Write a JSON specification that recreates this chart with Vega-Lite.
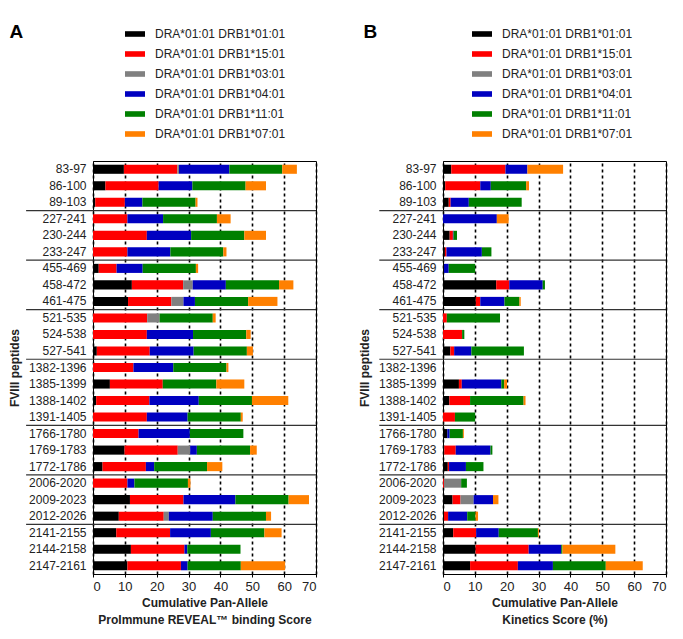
{
  "$schema": "https://vega.github.io/schema/vega-lite/v6.json",
  "padding": {"left": 8, "top": 22, "right": 5, "bottom": 5},
  "config": {
    "font": "Liberation Sans",
    "view": {"stroke": "black", "strokeWidth": 1},
    "axis": {"domainColor": "black", "domainWidth": 1, "labelColor": "#222", "titleColor": "#222"},
    "concat": {"spacing": 40}
  },
  "datasets": {
    "alleles": [
      {"allele": "DRA*01:01 DRB1*01:01", "rank": 1},
      {"allele": "DRA*01:01 DRB1*15:01", "rank": 2},
      {"allele": "DRA*01:01 DRB1*03:01", "rank": 3},
      {"allele": "DRA*01:01 DRB1*04:01", "rank": 4},
      {"allele": "DRA*01:01 DRB1*11:01", "rank": 5},
      {"allele": "DRA*01:01 DRB1*07:01", "rank": 6}
    ],
    "A": [
      {"peptide": "83-97", "DRA*01:01 DRB1*01:01": 9.7, "DRA*01:01 DRB1*15:01": 16.8, "DRA*01:01 DRB1*03:01": 0.5, "DRA*01:01 DRB1*04:01": 15.8, "DRA*01:01 DRB1*11:01": 16.6, "DRA*01:01 DRB1*07:01": 4.6},
      {"peptide": "86-100", "DRA*01:01 DRB1*01:01": 3.9, "DRA*01:01 DRB1*15:01": 16.7, "DRA*01:01 DRB1*03:01": 0, "DRA*01:01 DRB1*04:01": 10.6, "DRA*01:01 DRB1*11:01": 16.7, "DRA*01:01 DRB1*07:01": 6.4},
      {"peptide": "89-103", "DRA*01:01 DRB1*01:01": 0.7, "DRA*01:01 DRB1*15:01": 9.3, "DRA*01:01 DRB1*03:01": 0, "DRA*01:01 DRB1*04:01": 5.5, "DRA*01:01 DRB1*11:01": 16.7, "DRA*01:01 DRB1*07:01": 0.6},
      {"peptide": "227-241", "DRA*01:01 DRB1*01:01": 0, "DRA*01:01 DRB1*15:01": 10.8, "DRA*01:01 DRB1*03:01": 0, "DRA*01:01 DRB1*04:01": 11.2, "DRA*01:01 DRB1*11:01": 16.9, "DRA*01:01 DRB1*07:01": 4.3},
      {"peptide": "230-244", "DRA*01:01 DRB1*01:01": 0, "DRA*01:01 DRB1*15:01": 16.9, "DRA*01:01 DRB1*03:01": 0, "DRA*01:01 DRB1*04:01": 13.9, "DRA*01:01 DRB1*11:01": 16.7, "DRA*01:01 DRB1*07:01": 6.8},
      {"peptide": "233-247", "DRA*01:01 DRB1*01:01": 0, "DRA*01:01 DRB1*15:01": 10.8, "DRA*01:01 DRB1*03:01": 0, "DRA*01:01 DRB1*04:01": 13.5, "DRA*01:01 DRB1*11:01": 16.6, "DRA*01:01 DRB1*07:01": 1.0},
      {"peptide": "455-469", "DRA*01:01 DRB1*01:01": 1.8, "DRA*01:01 DRB1*15:01": 5.6, "DRA*01:01 DRB1*03:01": 0, "DRA*01:01 DRB1*04:01": 8.2, "DRA*01:01 DRB1*11:01": 16.7, "DRA*01:01 DRB1*07:01": 0.7},
      {"peptide": "458-472", "DRA*01:01 DRB1*01:01": 12.2, "DRA*01:01 DRB1*15:01": 16.1, "DRA*01:01 DRB1*03:01": 3.0, "DRA*01:01 DRB1*04:01": 10.4, "DRA*01:01 DRB1*11:01": 16.7, "DRA*01:01 DRB1*07:01": 4.5},
      {"peptide": "461-475", "DRA*01:01 DRB1*01:01": 11.0, "DRA*01:01 DRB1*15:01": 13.6, "DRA*01:01 DRB1*03:01": 3.8, "DRA*01:01 DRB1*04:01": 3.6, "DRA*01:01 DRB1*11:01": 16.7, "DRA*01:01 DRB1*07:01": 9.2},
      {"peptide": "521-535", "DRA*01:01 DRB1*01:01": 0, "DRA*01:01 DRB1*15:01": 17.0, "DRA*01:01 DRB1*03:01": 3.9, "DRA*01:01 DRB1*04:01": 0, "DRA*01:01 DRB1*11:01": 16.7, "DRA*01:01 DRB1*07:01": 0.9},
      {"peptide": "524-538", "DRA*01:01 DRB1*01:01": 0, "DRA*01:01 DRB1*15:01": 16.9, "DRA*01:01 DRB1*03:01": 0, "DRA*01:01 DRB1*04:01": 14.5, "DRA*01:01 DRB1*11:01": 16.7, "DRA*01:01 DRB1*07:01": 1.4},
      {"peptide": "527-541", "DRA*01:01 DRB1*01:01": 1.2, "DRA*01:01 DRB1*15:01": 16.6, "DRA*01:01 DRB1*03:01": 0, "DRA*01:01 DRB1*04:01": 13.8, "DRA*01:01 DRB1*11:01": 16.7, "DRA*01:01 DRB1*07:01": 1.9},
      {"peptide": "1382-1396", "DRA*01:01 DRB1*01:01": 0, "DRA*01:01 DRB1*15:01": 12.7, "DRA*01:01 DRB1*03:01": 0, "DRA*01:01 DRB1*04:01": 12.5, "DRA*01:01 DRB1*11:01": 16.7, "DRA*01:01 DRB1*07:01": 0.6},
      {"peptide": "1385-1399", "DRA*01:01 DRB1*01:01": 5.3, "DRA*01:01 DRB1*15:01": 16.6, "DRA*01:01 DRB1*03:01": 0, "DRA*01:01 DRB1*04:01": 0, "DRA*01:01 DRB1*11:01": 16.8, "DRA*01:01 DRB1*07:01": 8.8},
      {"peptide": "1388-1402", "DRA*01:01 DRB1*01:01": 1.0, "DRA*01:01 DRB1*15:01": 16.7, "DRA*01:01 DRB1*03:01": 0, "DRA*01:01 DRB1*04:01": 15.5, "DRA*01:01 DRB1*11:01": 16.7, "DRA*01:01 DRB1*07:01": 11.4},
      {"peptide": "1391-1405", "DRA*01:01 DRB1*01:01": 0, "DRA*01:01 DRB1*15:01": 16.9, "DRA*01:01 DRB1*03:01": 0, "DRA*01:01 DRB1*04:01": 12.8, "DRA*01:01 DRB1*11:01": 16.7, "DRA*01:01 DRB1*07:01": 0.6},
      {"peptide": "1766-1780", "DRA*01:01 DRB1*01:01": 0, "DRA*01:01 DRB1*15:01": 14.3, "DRA*01:01 DRB1*03:01": 0, "DRA*01:01 DRB1*04:01": 16.1, "DRA*01:01 DRB1*11:01": 16.8, "DRA*01:01 DRB1*07:01": 0},
      {"peptide": "1769-1783", "DRA*01:01 DRB1*01:01": 9.9, "DRA*01:01 DRB1*15:01": 16.7, "DRA*01:01 DRB1*03:01": 3.9, "DRA*01:01 DRB1*04:01": 2.1, "DRA*01:01 DRB1*11:01": 16.7, "DRA*01:01 DRB1*07:01": 2.1},
      {"peptide": "1772-1786", "DRA*01:01 DRB1*01:01": 3.0, "DRA*01:01 DRB1*15:01": 13.6, "DRA*01:01 DRB1*03:01": 0, "DRA*01:01 DRB1*04:01": 2.6, "DRA*01:01 DRB1*11:01": 16.6, "DRA*01:01 DRB1*07:01": 4.8},
      {"peptide": "2006-2020", "DRA*01:01 DRB1*01:01": 0, "DRA*01:01 DRB1*15:01": 10.8, "DRA*01:01 DRB1*03:01": 0, "DRA*01:01 DRB1*04:01": 2.2, "DRA*01:01 DRB1*11:01": 16.8, "DRA*01:01 DRB1*07:01": 0.8},
      {"peptide": "2009-2023", "DRA*01:01 DRB1*01:01": 11.6, "DRA*01:01 DRB1*15:01": 16.8, "DRA*01:01 DRB1*03:01": 0, "DRA*01:01 DRB1*04:01": 16.3, "DRA*01:01 DRB1*11:01": 16.7, "DRA*01:01 DRB1*07:01": 6.4},
      {"peptide": "2012-2026", "DRA*01:01 DRB1*01:01": 8.1, "DRA*01:01 DRB1*15:01": 14.1, "DRA*01:01 DRB1*03:01": 1.6, "DRA*01:01 DRB1*04:01": 13.8, "DRA*01:01 DRB1*11:01": 16.7, "DRA*01:01 DRB1*07:01": 1.6},
      {"peptide": "2141-2155", "DRA*01:01 DRB1*01:01": 7.3, "DRA*01:01 DRB1*15:01": 16.9, "DRA*01:01 DRB1*03:01": 0, "DRA*01:01 DRB1*04:01": 12.8, "DRA*01:01 DRB1*11:01": 16.8, "DRA*01:01 DRB1*07:01": 5.4},
      {"peptide": "2144-2158", "DRA*01:01 DRB1*01:01": 11.9, "DRA*01:01 DRB1*15:01": 16.8, "DRA*01:01 DRB1*03:01": 0, "DRA*01:01 DRB1*04:01": 0.9, "DRA*01:01 DRB1*11:01": 16.7, "DRA*01:01 DRB1*07:01": 0},
      {"peptide": "2147-2161", "DRA*01:01 DRB1*01:01": 10.8, "DRA*01:01 DRB1*15:01": 16.8, "DRA*01:01 DRB1*03:01": 0, "DRA*01:01 DRB1*04:01": 2.1, "DRA*01:01 DRB1*11:01": 16.7, "DRA*01:01 DRB1*07:01": 13.9}
    ],
    "B": [
      {"peptide": "83-97", "DRA*01:01 DRB1*01:01": 2.6, "DRA*01:01 DRB1*15:01": 17.0, "DRA*01:01 DRB1*03:01": 0, "DRA*01:01 DRB1*04:01": 6.9, "DRA*01:01 DRB1*11:01": 0, "DRA*01:01 DRB1*07:01": 11.2},
      {"peptide": "86-100", "DRA*01:01 DRB1*01:01": 0.7, "DRA*01:01 DRB1*15:01": 11.0, "DRA*01:01 DRB1*03:01": 0, "DRA*01:01 DRB1*04:01": 3.3, "DRA*01:01 DRB1*11:01": 11.1, "DRA*01:01 DRB1*07:01": 0.9},
      {"peptide": "89-103", "DRA*01:01 DRB1*01:01": 1.8, "DRA*01:01 DRB1*15:01": 0.6, "DRA*01:01 DRB1*03:01": 0, "DRA*01:01 DRB1*04:01": 5.7, "DRA*01:01 DRB1*11:01": 16.6, "DRA*01:01 DRB1*07:01": 0},
      {"peptide": "227-241", "DRA*01:01 DRB1*01:01": 0, "DRA*01:01 DRB1*15:01": 0, "DRA*01:01 DRB1*03:01": 0, "DRA*01:01 DRB1*04:01": 16.9, "DRA*01:01 DRB1*11:01": 0, "DRA*01:01 DRB1*07:01": 3.7},
      {"peptide": "230-244", "DRA*01:01 DRB1*01:01": 2.1, "DRA*01:01 DRB1*15:01": 1.0, "DRA*01:01 DRB1*03:01": 0, "DRA*01:01 DRB1*04:01": 0.2, "DRA*01:01 DRB1*11:01": 1.1, "DRA*01:01 DRB1*07:01": 0},
      {"peptide": "233-247", "DRA*01:01 DRB1*01:01": 0.6, "DRA*01:01 DRB1*15:01": 0.5, "DRA*01:01 DRB1*03:01": 0, "DRA*01:01 DRB1*04:01": 11.1, "DRA*01:01 DRB1*11:01": 3.0, "DRA*01:01 DRB1*07:01": 0},
      {"peptide": "455-469", "DRA*01:01 DRB1*01:01": 0.3, "DRA*01:01 DRB1*15:01": 0, "DRA*01:01 DRB1*03:01": 0, "DRA*01:01 DRB1*04:01": 1.5, "DRA*01:01 DRB1*11:01": 8.3, "DRA*01:01 DRB1*07:01": 0},
      {"peptide": "458-472", "DRA*01:01 DRB1*01:01": 16.7, "DRA*01:01 DRB1*15:01": 4.1, "DRA*01:01 DRB1*03:01": 0, "DRA*01:01 DRB1*04:01": 10.5, "DRA*01:01 DRB1*11:01": 0.7, "DRA*01:01 DRB1*07:01": 0},
      {"peptide": "461-475", "DRA*01:01 DRB1*01:01": 10.3, "DRA*01:01 DRB1*15:01": 1.4, "DRA*01:01 DRB1*03:01": 0, "DRA*01:01 DRB1*04:01": 7.6, "DRA*01:01 DRB1*11:01": 4.7, "DRA*01:01 DRB1*07:01": 0.4},
      {"peptide": "521-535", "DRA*01:01 DRB1*01:01": 0, "DRA*01:01 DRB1*15:01": 1.2, "DRA*01:01 DRB1*03:01": 0, "DRA*01:01 DRB1*04:01": 0, "DRA*01:01 DRB1*11:01": 16.7, "DRA*01:01 DRB1*07:01": 0},
      {"peptide": "524-538", "DRA*01:01 DRB1*01:01": 0, "DRA*01:01 DRB1*15:01": 6.0, "DRA*01:01 DRB1*03:01": 0, "DRA*01:01 DRB1*04:01": 0, "DRA*01:01 DRB1*11:01": 0.7, "DRA*01:01 DRB1*07:01": 0},
      {"peptide": "527-541", "DRA*01:01 DRB1*01:01": 2.3, "DRA*01:01 DRB1*15:01": 1.2, "DRA*01:01 DRB1*03:01": 0, "DRA*01:01 DRB1*04:01": 5.4, "DRA*01:01 DRB1*11:01": 16.5, "DRA*01:01 DRB1*07:01": 0},
      {"peptide": "1382-1396", "DRA*01:01 DRB1*01:01": 0, "DRA*01:01 DRB1*15:01": 0, "DRA*01:01 DRB1*03:01": 0, "DRA*01:01 DRB1*04:01": 0, "DRA*01:01 DRB1*11:01": 0, "DRA*01:01 DRB1*07:01": 0},
      {"peptide": "1385-1399", "DRA*01:01 DRB1*01:01": 5.0, "DRA*01:01 DRB1*15:01": 0.9, "DRA*01:01 DRB1*03:01": 0, "DRA*01:01 DRB1*04:01": 12.4, "DRA*01:01 DRB1*11:01": 0.9, "DRA*01:01 DRB1*07:01": 0.9},
      {"peptide": "1388-1402", "DRA*01:01 DRB1*01:01": 2.0, "DRA*01:01 DRB1*15:01": 6.5, "DRA*01:01 DRB1*03:01": 0, "DRA*01:01 DRB1*04:01": 0, "DRA*01:01 DRB1*11:01": 16.8, "DRA*01:01 DRB1*07:01": 0.6},
      {"peptide": "1391-1405", "DRA*01:01 DRB1*01:01": 0, "DRA*01:01 DRB1*15:01": 3.75, "DRA*01:01 DRB1*03:01": 0, "DRA*01:01 DRB1*04:01": 0, "DRA*01:01 DRB1*11:01": 6.35, "DRA*01:01 DRB1*07:01": 0},
      {"peptide": "1766-1780", "DRA*01:01 DRB1*01:01": 1.35, "DRA*01:01 DRB1*15:01": 0, "DRA*01:01 DRB1*03:01": 0, "DRA*01:01 DRB1*04:01": 0.75, "DRA*01:01 DRB1*11:01": 4.15, "DRA*01:01 DRB1*07:01": 0.3},
      {"peptide": "1769-1783", "DRA*01:01 DRB1*01:01": 0.4, "DRA*01:01 DRB1*15:01": 3.6, "DRA*01:01 DRB1*03:01": 0, "DRA*01:01 DRB1*04:01": 10.9, "DRA*01:01 DRB1*11:01": 0.6, "DRA*01:01 DRB1*07:01": 0},
      {"peptide": "1772-1786", "DRA*01:01 DRB1*01:01": 1.5, "DRA*01:01 DRB1*15:01": 0.4, "DRA*01:01 DRB1*03:01": 0, "DRA*01:01 DRB1*04:01": 5.3, "DRA*01:01 DRB1*11:01": 5.5, "DRA*01:01 DRB1*07:01": 0},
      {"peptide": "2006-2020", "DRA*01:01 DRB1*01:01": 0, "DRA*01:01 DRB1*15:01": 0.3, "DRA*01:01 DRB1*03:01": 5.4, "DRA*01:01 DRB1*04:01": 0, "DRA*01:01 DRB1*11:01": 1.8, "DRA*01:01 DRB1*07:01": 0},
      {"peptide": "2009-2023", "DRA*01:01 DRB1*01:01": 3.0, "DRA*01:01 DRB1*15:01": 2.5, "DRA*01:01 DRB1*03:01": 4.1, "DRA*01:01 DRB1*04:01": 6.1, "DRA*01:01 DRB1*11:01": 0, "DRA*01:01 DRB1*07:01": 1.7},
      {"peptide": "2012-2026", "DRA*01:01 DRB1*01:01": 0.3, "DRA*01:01 DRB1*15:01": 1.3, "DRA*01:01 DRB1*03:01": 0, "DRA*01:01 DRB1*04:01": 6.0, "DRA*01:01 DRB1*11:01": 2.6, "DRA*01:01 DRB1*07:01": 0.8},
      {"peptide": "2141-2155", "DRA*01:01 DRB1*01:01": 3.2, "DRA*01:01 DRB1*15:01": 7.2, "DRA*01:01 DRB1*03:01": 0, "DRA*01:01 DRB1*04:01": 7.1, "DRA*01:01 DRB1*11:01": 12.3, "DRA*01:01 DRB1*07:01": 0.3},
      {"peptide": "2144-2158", "DRA*01:01 DRB1*01:01": 10.2, "DRA*01:01 DRB1*15:01": 16.7, "DRA*01:01 DRB1*03:01": 0, "DRA*01:01 DRB1*04:01": 10.2, "DRA*01:01 DRB1*11:01": 0.4, "DRA*01:01 DRB1*07:01": 16.6},
      {"peptide": "2147-2161", "DRA*01:01 DRB1*01:01": 8.5, "DRA*01:01 DRB1*15:01": 15.0, "DRA*01:01 DRB1*03:01": 0, "DRA*01:01 DRB1*04:01": 11.0, "DRA*01:01 DRB1*11:01": 16.6, "DRA*01:01 DRB1*07:01": 11.6}
    ],
    "separators": [
      {"peptide": "227-241"}, {"peptide": "455-469"}, {"peptide": "521-535"}, {"peptide": "1382-1396"},
      {"peptide": "1766-1780"}, {"peptide": "2006-2020"}, {"peptide": "2141-2155"}
    ]
  },
  "resolve": {"scale": {"color": "independent"}},
  "hconcat": [
    {
      "width": 223, "height": 413,
      "title": {"text": "A", "anchor": "start", "frame": "bounds", "fontSize": 19, "fontWeight": "bold", "color": "black", "dx": 1, "offset": -18},
      "resolve": {"axis": {"x": "independent"}},
      "layer": [
        {
          "data": {"name": "A"},
          "transform": [
            {"fold": ["DRA*01:01 DRB1*01:01", "DRA*01:01 DRB1*15:01", "DRA*01:01 DRB1*03:01", "DRA*01:01 DRB1*04:01", "DRA*01:01 DRB1*11:01", "DRA*01:01 DRB1*07:01"], "as": ["allele", "value"]},
            {"lookup": "allele", "from": {"data": {"name": "alleles"}, "key": "allele", "fields": ["rank"]}}
          ],
          "mark": {"type": "bar", "height": {"band": 0.55}},
          "encoding": {
            "y": {"field": "peptide", "type": "nominal",
              "scale": {"domain": ["83-97","86-100","89-103","227-241","230-244","233-247","455-469","458-472","461-475","521-535","524-538","527-541","1382-1396","1385-1399","1388-1402","1391-1405","1766-1780","1769-1783","1772-1786","2006-2020","2009-2023","2012-2026","2141-2155","2144-2158","2147-2161"], "paddingInner": 0, "paddingOuter": 0},
              "axis": {"title": "FVIII peptides", "ticks": false, "tickSize": 0, "labelPadding": 7, "labelFontSize": 12, "titleFontSize": 12, "titleFontWeight": "bold", "titlePadding": 7, "grid": false}},
            "x": {"field": "value", "type": "quantitative", "stack": "zero",
              "scale": {"domain": [0, 70], "nice": false},
              "axis": {"values": [0,10,20,30,40,50,60,70], "labelOverlap": false, "title": ["Cumulative Pan-Allele", "ProImmune REVEAL™ binding Score"], "titleFontSize": 12, "titleFontWeight": "bold", "titleLineHeight": 17, "labelFontSize": 13, "labelPadding": 3, "tickSize": 3, "tickColor": "black", "titlePadding": 4, "grid": true, "gridColor": "black", "gridDash": [3, 3], "gridWidth": 1.6, "gridOpacity": 1}},
            "order": {"field": "rank", "type": "quantitative"},
            "color": {"field": "allele", "type": "nominal",
              "scale": {"domain": ["DRA*01:01 DRB1*01:01", "DRA*01:01 DRB1*15:01", "DRA*01:01 DRB1*03:01", "DRA*01:01 DRB1*04:01", "DRA*01:01 DRB1*11:01", "DRA*01:01 DRB1*07:01"], "range": ["#000000", "#ff0000", "#808080", "#0000c0", "#008000", "#ff8000"]},
              "legend": {"orient": "none", "legendX": 32, "legendY": -137, "title": null, "symbolType": "M-1,-0.28H1V0.28H-1Z", "symbolSize": 400, "symbolStrokeWidth": 0, "symbolOpacity": 1, "labelFontSize": 12, "labelColor": "#222", "labelOffset": 10, "rowPadding": 4}}
          }
        },
        {
          "data": {"name": "separators"},
          "mark": {"type": "rule", "color": "#333", "strokeWidth": 1.2, "clip": false},
          "encoding": {
            "y": {"field": "peptide", "type": "nominal", "bandPosition": 0},
            "x": {"datum": -21, "type": "quantitative", "axis": null},
            "x2": {"datum": 70}
          }
        }
      ]
    },
    {
      "width": 223, "height": 413,
      "title": {"text": "B", "anchor": "start", "frame": "bounds", "fontSize": 19, "fontWeight": "bold", "color": "black", "dx": 5, "offset": -18},
      "resolve": {"axis": {"x": "independent"}},
      "layer": [
        {
          "data": {"name": "B"},
          "transform": [
            {"fold": ["DRA*01:01 DRB1*01:01", "DRA*01:01 DRB1*15:01", "DRA*01:01 DRB1*03:01", "DRA*01:01 DRB1*04:01", "DRA*01:01 DRB1*11:01", "DRA*01:01 DRB1*07:01"], "as": ["allele", "value"]},
            {"lookup": "allele", "from": {"data": {"name": "alleles"}, "key": "allele", "fields": ["rank"]}}
          ],
          "mark": {"type": "bar", "height": {"band": 0.55}},
          "encoding": {
            "y": {"field": "peptide", "type": "nominal",
              "scale": {"domain": ["83-97","86-100","89-103","227-241","230-244","233-247","455-469","458-472","461-475","521-535","524-538","527-541","1382-1396","1385-1399","1388-1402","1391-1405","1766-1780","1769-1783","1772-1786","2006-2020","2009-2023","2012-2026","2141-2155","2144-2158","2147-2161"], "paddingInner": 0, "paddingOuter": 0},
              "axis": {"title": "FVIII peptides", "ticks": false, "tickSize": 0, "labelPadding": 7, "labelFontSize": 12, "titleFontSize": 12, "titleFontWeight": "bold", "titlePadding": 7, "grid": false}},
            "x": {"field": "value", "type": "quantitative", "stack": "zero",
              "scale": {"domain": [0, 70], "nice": false},
              "axis": {"values": [0,10,20,30,40,50,60,70], "labelOverlap": false, "title": ["Cumulative Pan-Allele", "Kinetics Score (%)"], "titleFontSize": 12, "titleFontWeight": "bold", "titleLineHeight": 17, "labelFontSize": 13, "labelPadding": 3, "tickSize": 3, "tickColor": "black", "titlePadding": 4, "grid": true, "gridColor": "black", "gridDash": [3, 3], "gridWidth": 1.6, "gridOpacity": 1}},
            "order": {"field": "rank", "type": "quantitative"},
            "color": {"field": "allele", "type": "nominal",
              "scale": {"domain": ["DRA*01:01 DRB1*01:01", "DRA*01:01 DRB1*15:01", "DRA*01:01 DRB1*03:01", "DRA*01:01 DRB1*04:01", "DRA*01:01 DRB1*11:01", "DRA*01:01 DRB1*07:01"], "range": ["#000000", "#ff0000", "#808080", "#0000c0", "#008000", "#ff8000"]},
              "legend": {"orient": "none", "legendX": 29, "legendY": -137, "title": null, "symbolType": "M-1,-0.28H1V0.28H-1Z", "symbolSize": 400, "symbolStrokeWidth": 0, "symbolOpacity": 1, "labelFontSize": 12, "labelColor": "#222", "labelOffset": 10, "rowPadding": 4}}
          }
        },
        {
          "data": {"name": "separators"},
          "mark": {"type": "rule", "color": "#333", "strokeWidth": 1.2, "clip": false},
          "encoding": {
            "y": {"field": "peptide", "type": "nominal", "bandPosition": 0},
            "x": {"datum": -20, "type": "quantitative", "axis": null},
            "x2": {"datum": 70}
          }
        }
      ]
    }
  ]
}
